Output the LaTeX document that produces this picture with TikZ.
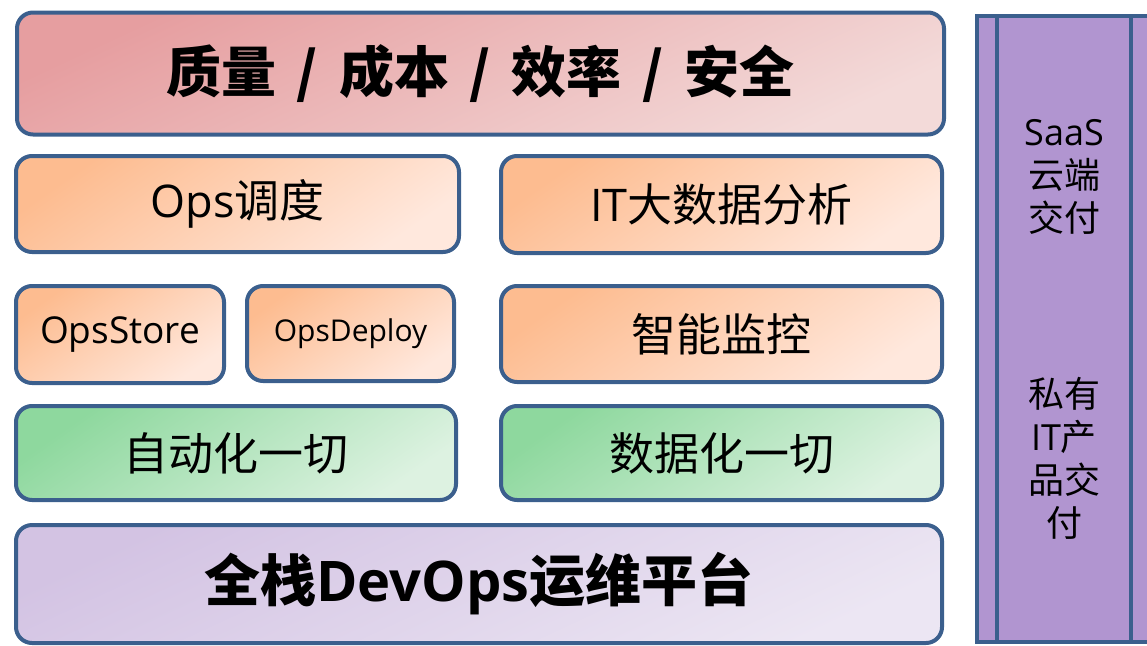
\documentclass[tikz,border=0pt]{standalone}
\usepackage{fontspec}
\setmainfont{Open Sans}
\newfontfamily\cjk{Noto Sans CJK SC}
\usetikzlibrary{positioning}

\definecolor{edge}{HTML}{3B5F8D}
\definecolor{pinkA}{HTML}{E69EA0}
\definecolor{pinkB}{HTML}{F3DAD9}
\definecolor{orangeA}{HTML}{FDBC90}
\definecolor{orangeB}{HTML}{FFE8DD}
\definecolor{greenA}{HTML}{8ED89E}
\definecolor{greenB}{HTML}{DDF2E1}
\definecolor{lilacA}{HTML}{D3C3E3}
\definecolor{lilacB}{HTML}{ECE6F3}
\definecolor{panel}{HTML}{B195D0}

\newcommand{\sep}{\hspace{0.38em}/\hspace{0.38em}}

\begin{document}
\begin{tikzpicture}[x=1pt, y=-1pt,
    layer/.style={draw=edge, line width=4pt, rounded corners=16pt,
        anchor=north west, inner sep=0pt, align=center},
    pinkfill/.style={top color=pinkA, bottom color=pinkB, shading angle=25},
    orangefill/.style={top color=orangeA, bottom color=orangeB, shading angle=35},
    greenfill/.style={top color=greenA, bottom color=greenB, shading angle=35},
    lilacfill/.style={top color=lilacA, bottom color=lilacB, shading angle=25},
    big/.style={font=\fontsize{55}{62}\selectfont\bfseries},
    mid/.style={font=\fontsize{45}{52}\selectfont},
    side/.style={font=\fontsize{36}{43}\selectfont, align=center}
]
\useasboundingbox (0, 0) rectangle (1147, 645);

% goals
\node[layer, pinkfill, big, minimum width=927pt, minimum height=122pt]
    (goals) at (15, 10.5) {\cjk 质量\sep 成本\sep 效率\sep 安全};

% services
\node[layer, orangefill, mid, minimum width=443pt, minimum height=96pt]
    (sched) at (14, 154) {Ops{\cjk 调度}};
\node[layer, orangefill, mid, minimum width=441pt, minimum height=97pt]
    (bigdata) at (499, 154) {IT{\cjk 大数据分析}};
\node[layer, orangefill, font=\fontsize{37}{44}\selectfont, minimum width=208pt, minimum height=97pt]
    (store) at (14, 284) {OpsStore};
\node[layer, orangefill, font=\fontsize{30}{36}\selectfont, minimum width=207pt, minimum height=95pt]
    (deploy) at (245, 284) {OpsDeploy};
\node[layer, orangefill, mid, minimum width=441pt, minimum height=96pt]
    (monitor) at (499, 284) {\cjk 智能监控};

% base ideas
\node[layer, greenfill, mid, minimum width=440pt, minimum height=94pt]
    (auto) at (14, 404) {\cjk 自动化一切};
\node[layer, greenfill, mid, minimum width=441pt, minimum height=94pt]
    (datafy) at (499, 404) {\cjk 数据化一切};

% platform
\node[layer, lilacfill, big, font=\fontsize{56}{62}\selectfont\bfseries,
    minimum width=926pt, minimum height=118pt]
    (platform) at (14, 523) {{\cjk 全栈}DevOps{\cjk 运维平台}};

% delivery column
\node[draw=edge, line width=4pt, fill=panel, anchor=north west, inner sep=0pt,
    minimum width=200pt, minimum height=626pt] (deliver) at (975, 14) {};
\draw[edge, line width=4pt] ([xshift=22pt]deliver.north west) -- ([xshift=22pt]deliver.south west);
\draw[edge, line width=4pt] ([xshift=156pt]deliver.north west) -- ([xshift=156pt]deliver.south west);
\node[side] (saas) at (1064, 177) {SaaS\\{\cjk 云端}\\{\cjk 交付}};
\node[side] (private) at (1064, 458) {{\cjk 私有}\\IT{\cjk 产}\\{\cjk 品交}\\{\cjk 付}};
\end{tikzpicture}
\end{document}
